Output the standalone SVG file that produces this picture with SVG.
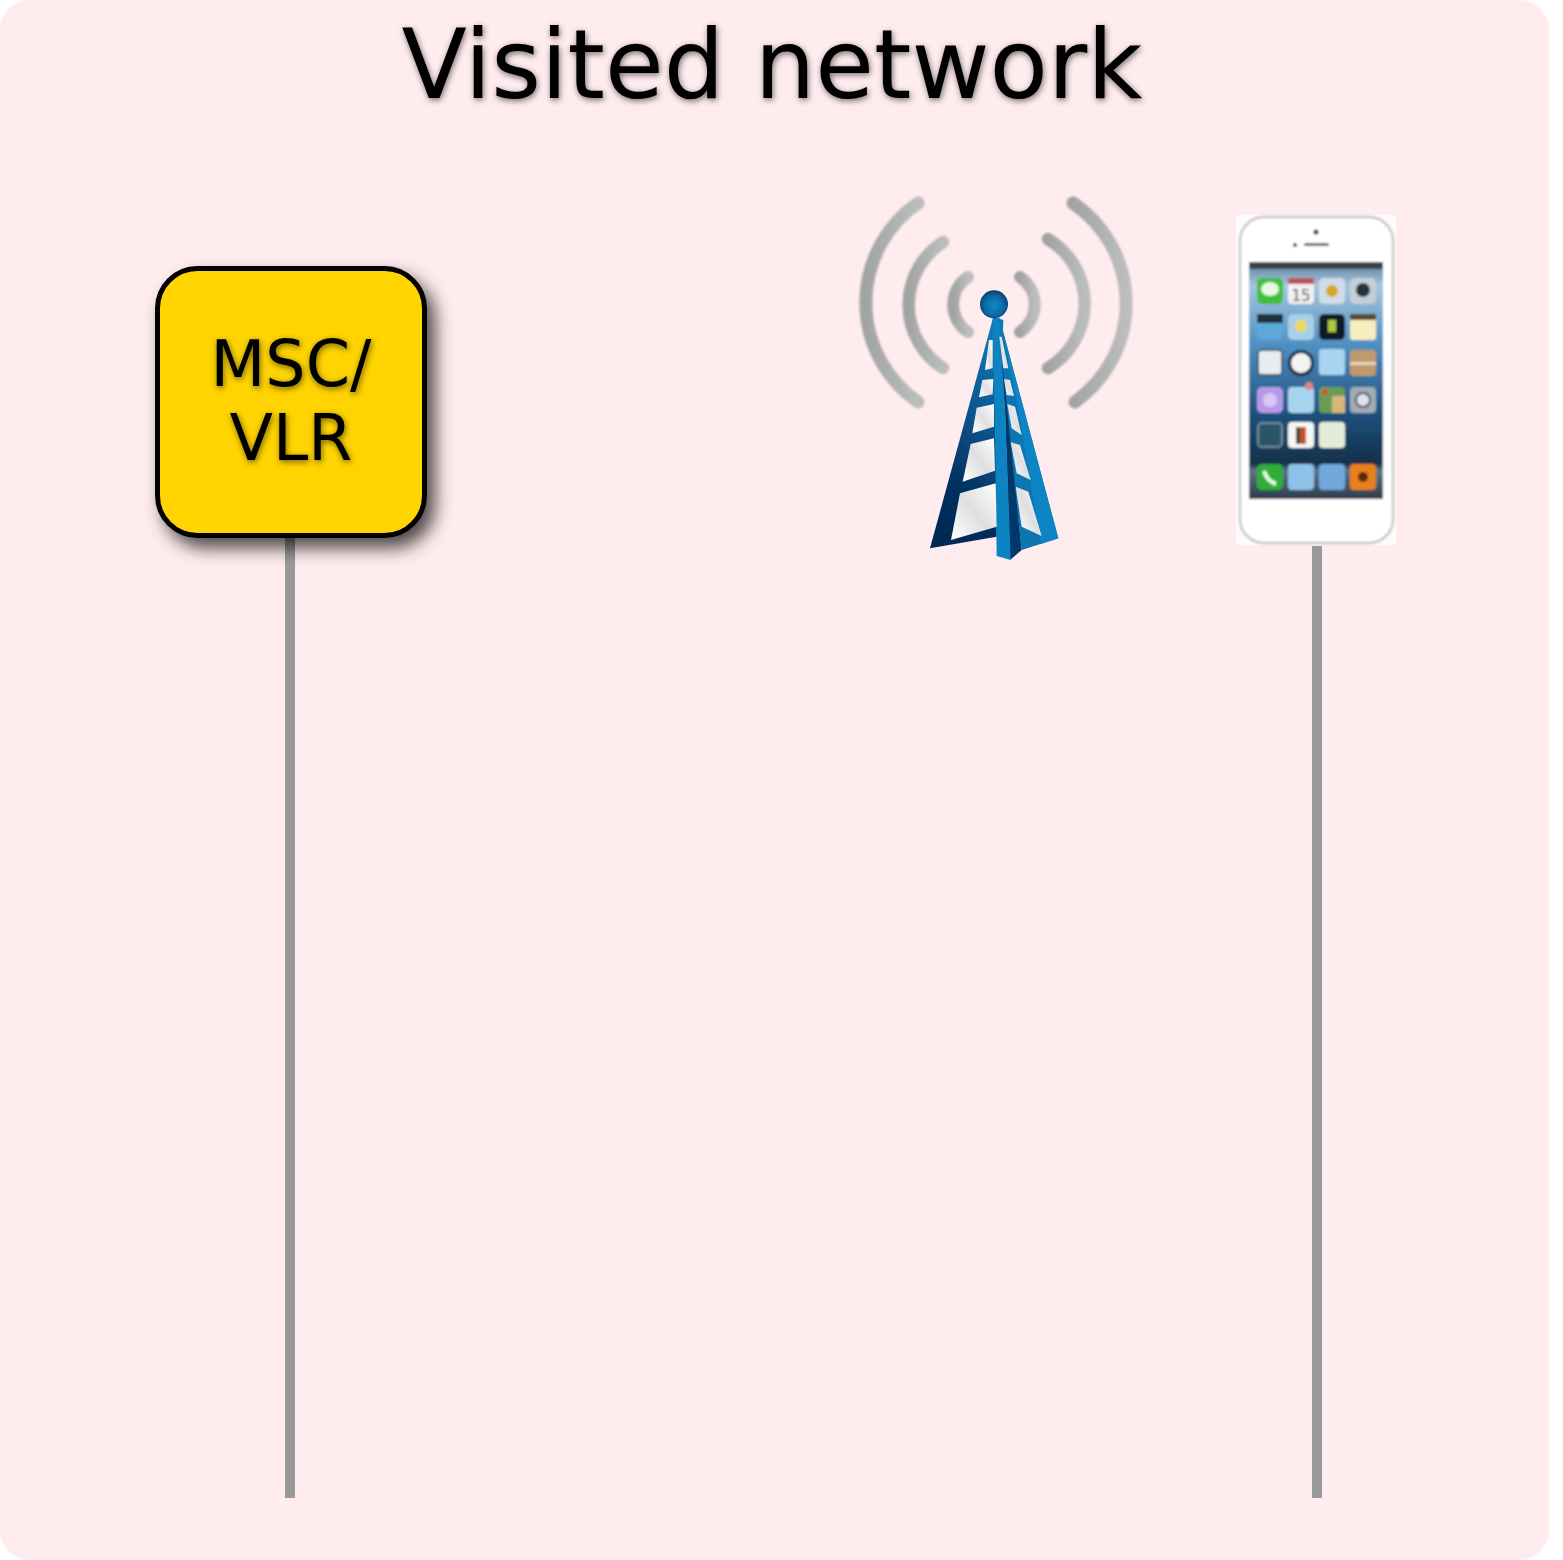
<svg xmlns="http://www.w3.org/2000/svg" width="1563" height="1560" viewBox="0 0 1563 1560">
<style>
.t{font-family:"DejaVu Sans",sans-serif;fill:#000;text-anchor:middle;filter:url(#ts)}
.life{stroke:#999;stroke-width:10;fill:none}
.wave{fill:none;stroke:url(#wg);stroke-linecap:round}
.pn{fill:url(#pg)}
</style>
<defs>
<filter id="ts" x="-10%" y="-20%" width="120%" height="140%"><feDropShadow dx="1" dy="2" stdDeviation="3" flood-color="#000" flood-opacity=".55"/></filter>
<filter id="bs" x="-15%" y="-15%" width="130%" height="130%"><feDropShadow dx="8" dy="10" stdDeviation="9" flood-color="#000" flood-opacity=".7"/></filter>
<filter id="b1" x="-5%" y="-5%" width="110%" height="110%"><feGaussianBlur stdDeviation="1.2"/></filter>
<filter id="b2" x="-5%" y="-5%" width="110%" height="110%"><feGaussianBlur stdDeviation="1.200"/></filter>
<linearGradient id="wg" x1="0" y1="0" x2="1" y2="0"><stop offset="0" stop-color="#a2a4a4"/><stop offset="1" stop-color="#bcbebe"/></linearGradient>
<linearGradient id="pg" x1="0" y1="1" x2="1" y2="0"><stop offset="0" stop-color="#fff"/><stop offset=".5" stop-color="#dfdfe2"/><stop offset="1" stop-color="#fff"/></linearGradient>
<linearGradient id="dk" x1=".6" y1="0" x2=".3" y2="1"><stop offset="0" stop-color="#0f7ab8"/><stop offset=".3" stop-color="#0b5c98"/><stop offset=".75" stop-color="#052f5e"/><stop offset="1" stop-color="#022a55"/></linearGradient>
<radialGradient id="ball" cx=".5" cy=".55" r=".55"><stop offset="0" stop-color="#0f8bc8"/><stop offset=".6" stop-color="#0a6aa8"/><stop offset="1" stop-color="#053f72"/></radialGradient>
<linearGradient id="scr" x1="0" y1="0" x2="0" y2="1"><stop offset="0" stop-color="#5c7f9a"/><stop offset=".1" stop-color="#a6c6de"/><stop offset=".35" stop-color="#4f8fc2"/><stop offset=".65" stop-color="#1d4f7c"/><stop offset=".85" stop-color="#14304a"/><stop offset=".88" stop-color="#5d7488"/><stop offset="1" stop-color="#2c3c4a"/></linearGradient>
</defs>
<rect id="background" x="0" y="0" width="1549" height="1560" rx="30" fill="#ffecee"/>
<text class="t" x="772" y="98" font-size="95.5">Visited network</text>
<g id="connectors">
<line class="life" x1="290" y1="538" x2="290" y2="1498"/>
<line class="life" x1="1317" y1="546" x2="1317" y2="1498"/>
</g>
<g id="msc-vlr">
<rect x="157.500" y="268.500" width="267" height="267" rx="40" fill="#ffd400" stroke="#000" stroke-width="5" filter="url(#bs)"/>
<text class="t" x="291" y="386" font-size="63.500">MSC/</text>
<text class="t" x="291" y="460" font-size="63.500">VLR</text>
</g>
<g id="tower">
<g filter="url(#b1)">
<path class="wave" stroke-width="13" d="M918 203A121 121 0 0 0 918 402"/>
<path class="wave" stroke-width="12.500" d="M943 242A75 75 0 0 0 943 368"/>
<path class="wave" stroke-width="12" d="M968 277A33 33 0 0 0 968 332"/>
<path class="wave" stroke-width="13" d="M1073 203A121 121 0 0 1 1075 402"/>
<path class="wave" stroke-width="12.500" d="M1048 239A75 75 0 0 1 1048 368"/>
<path class="wave" stroke-width="12" d="M1020 277A33 33 0 0 1 1020 332"/>
</g>
<g transform="translate(840 180) scale(.33333)" filter="url(#b2)">
<path fill="url(#dk)" d="M460 410L270 1105L470 1070L490 420Z"/>
<path fill="#0f74b2" d="M478 412L655 1075L545 1110L500 700L470 420Z"/>
<path fill="#0e85c4" d="M478 412L655 1075L603 1092L530 660Z"/>
<path fill="#04396b" d="M476 440L545 1110L510 1140L495 700Z"/>
<path fill="#0d83c2" d="M458 415L478 420L496 700L512 1140L470 1128L464 700Z"/>
<g class="pn">
<path d="M447 480L458 480L458 565L435 570Z"/>
<path d="M427 600L460 597L458 643L417 652Z"/>
<path d="M410 683L462 672L462 740L397 760Z"/>
<path d="M392 792L462 775L465 872L368 905Z"/>
<path d="M360 940L467 910L470 1040L333 1080Z"/>
<path d="M478 470L485 470L505 565L490 565Z"/>
<path d="M492 597L510 600L522 648L500 645Z"/>
<path d="M502 672L525 680L545 765L515 745Z"/>
<path d="M512 787L540 795L572 900L530 880Z"/>
<path d="M527 920L565 935L605 1068L545 1040Z"/>
</g>
<circle cx="462" cy="373" r="42" fill="url(#ball)"/>
</g>
</g>
<g id="phone">
<rect x="1236" y="215" width="160" height="330" fill="#fdfbfb"/>
<g filter="url(#b1)">
<rect x="1240" y="217" width="153" height="326" rx="24" fill="#fff" stroke="#c6c7c7" stroke-width="2.500"/>
<rect x="1249" y="262" width="134" height="237" fill="url(#scr)"/>
<rect x="1249" y="262" width="134" height="7" fill="#39424a"/>
<circle cx="1316" cy="232" r="2.500" fill="#333"/>
<rect x="1304" y="243" width="25" height="3" rx="1.500" fill="#666"/>
<circle cx="1295" cy="245" r="2" fill="#444"/>
<g id="icons">
<rect x="1257" y="278" width="26" height="26" rx="5" fill="#3fbf3a"/><ellipse cx="1270" cy="289" rx="9" ry="7" fill="#e8f8e0"/>
<rect x="1288" y="278" width="26" height="26" rx="4" fill="#f2f2f2"/><rect x="1288" y="278" width="26" height="6" fill="#b55"/><text x="1301" y="301" font-family="'DejaVu Sans',sans-serif" font-size="15" fill="#444" text-anchor="middle">15</text>
<rect x="1319" y="278" width="26" height="26" rx="5" fill="#cfdde8"/><circle cx="1332" cy="291" r="6" fill="#d8a620"/>
<rect x="1350" y="278" width="26" height="26" rx="5" fill="#c3cfd8"/><circle cx="1363" cy="290" r="7" fill="#22303a"/>
<rect x="1257" y="314" width="26" height="26" rx="5" fill="#5ca8d8"/><rect x="1257" y="314" width="26" height="9" fill="#20303c"/>
<rect x="1288" y="314" width="26" height="26" rx="5" fill="#a8cfe8"/><circle cx="1301" cy="326" r="6" fill="#f0d860"/>
<rect x="1319" y="314" width="26" height="26" rx="5" fill="#0c1c28"/><rect x="1328" y="320" width="8" height="12" fill="#b0c840"/>
<rect x="1350" y="314" width="26" height="26" rx="3" fill="#f6eebc"/><rect x="1350" y="314" width="26" height="6" fill="#5a4a30"/>
<rect x="1258" y="350" width="24" height="25" rx="4" fill="#e8ecef" stroke="#24384a" stroke-width="1.500"/>
<circle cx="1301" cy="363" r="11.500" fill="#f4f4f4" stroke="#1a2630" stroke-width="3"/>
<rect x="1319" y="349" width="26" height="26" rx="3" fill="#a8d4f0"/>
<rect x="1350" y="350" width="26" height="26" rx="4" fill="#c09a6a"/><rect x="1350" y="362" width="26" height="3" fill="#e8d8c0"/>
<rect x="1257" y="387" width="26" height="26" rx="5" fill="#b69ae8"/><circle cx="1270" cy="400" r="7" fill="#d8c8f4"/>
<rect x="1288" y="387" width="26" height="26" rx="4" fill="#a8d4f0"/><circle cx="1309" cy="386" r="4" fill="#d88"/>
<rect x="1319" y="387" width="26" height="26" rx="4" fill="#6a9c58"/><rect x="1332" y="396" width="13" height="17" fill="#d8b878"/><circle cx="1325" cy="392" r="3" fill="#d85030"/>
<rect x="1350" y="387" width="26" height="26" rx="4" fill="#a0acb4"/><circle cx="1363" cy="400" r="7" fill="#e0e4e8" stroke="#556" stroke-width="2"/>
<rect x="1258" y="423" width="24" height="24" rx="4" fill="#2c5468" stroke="#8aa0ac" stroke-width="1.500"/>
<rect x="1288" y="422" width="26" height="26" rx="4" fill="#f6f6f6"/><rect x="1296" y="427" width="4" height="17" fill="#444"/><rect x="1300" y="427" width="6" height="17" fill="#c85020"/>
<rect x="1319" y="422" width="26" height="26" rx="4" fill="#e4ecd8"/>
<rect x="1257" y="464" width="26" height="26" rx="5" fill="#2fae38"/><path d="M1264 471q3 10 12 13" stroke="#e8f8e8" stroke-width="4" fill="none"/>
<rect x="1288" y="464" width="26" height="26" rx="4" fill="#8fc0e8"/>
<rect x="1319" y="464" width="26" height="26" rx="4" fill="#70a8dc"/>
<rect x="1350" y="464" width="26" height="26" rx="4" fill="#e8801c"/><circle cx="1363" cy="477" r="5" fill="#5a2a10"/>
</g>
</g>
</g>
</svg>
